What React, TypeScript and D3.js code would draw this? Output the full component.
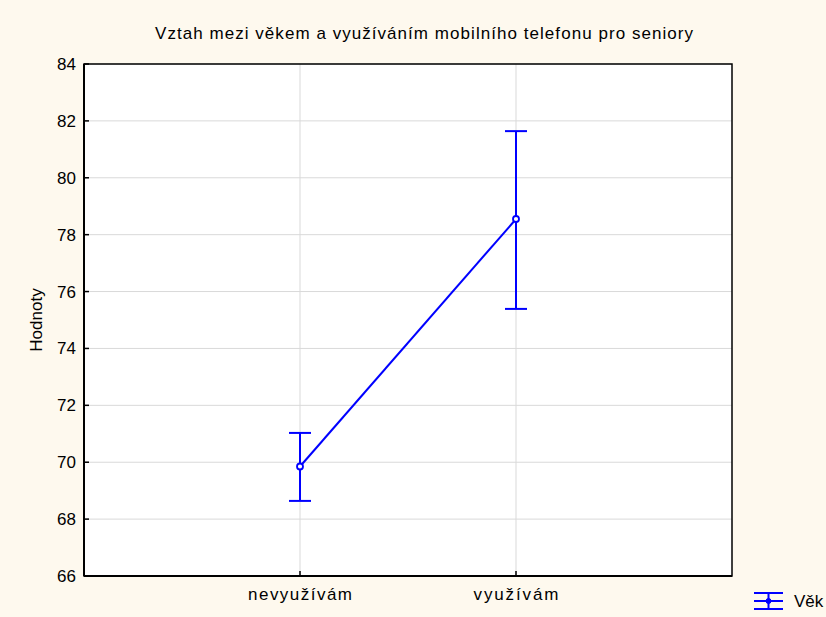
import React from "react";
import * as d3 from "d3";

const categories = ["nevyužívám", "využívám"];
const means = [69.85, 78.55];
const upper = [71.03, 81.64];
const lower = [68.64, 75.39];
const yTicks = [66, 68, 70, 72, 74, 76, 78, 80, 82, 84];
const title = "Vztah mezi věkem a využíváním mobilního telefonu pro seniory";
const yLabel = "Hodnoty";
const seriesName = "Věk";

const W = 826, H = 617;
const M = { left: 84, right: 732, top: 64, bottom: 576 };
const BLUE = "#0000ff";
const catWidths = [104, 85];

export default function App() {
  const x = d3.scalePoint<string>().domain(categories).range([M.left, M.right]).padding(1);
  const y = d3.scaleLinear().domain([66, 84]).range([M.bottom, M.top]);
  const pts = categories.map((c, i) => [x(c) as number, y(means[i])] as [number, number]);
  const line = d3.line()(pts) || "";
  const font = "Arial, 'Liberation Sans', sans-serif";
  return (
    <svg width={W} height={H} style={{ position: "absolute", left: 0, top: 0, display: "block" }} fontFamily={font}>
      <rect x={0} y={0} width={W} height={H} fill="#fef9ee" />
      <rect x={M.left} y={M.top} width={M.right - M.left} height={M.bottom - M.top} fill="#ffffff" />
      {yTicks.map((t) => (
        <line key={"g" + t} x1={M.left} x2={M.right} y1={y(t)} y2={y(t)} stroke="#d9d9d9" strokeWidth={1} />
      ))}
      {categories.map((c) => (
        <line key={"gx" + c} x1={x(c)} x2={x(c)} y1={M.top} y2={M.bottom} stroke="#d9d9d9" strokeWidth={1} />
      ))}
      <rect x={M.left} y={M.top} width={M.right - M.left} height={M.bottom - M.top} fill="none" stroke="#000" strokeWidth={1.5} />
      <line x1={M.left} x2={M.left} y1={M.top} y2={M.bottom} stroke="#000" strokeWidth={2} />
      <line x1={M.left} x2={M.right} y1={M.bottom} y2={M.bottom} stroke="#000" strokeWidth={2} />
      {yTicks.map((t) => (
        <g key={"t" + t}>
          <line x1={M.left} x2={M.left + 5} y1={y(t)} y2={y(t)} stroke="#000" strokeWidth={1.5} />
          <text x={M.left - 8} y={y(t)} dy="0.35em" textAnchor="end" fontSize={17} fill="#000">{t}</text>
        </g>
      ))}
      {categories.map((c, i) => (
        <g key={"xt" + c}>
          <line x1={x(c)} x2={x(c)} y1={M.bottom} y2={M.bottom - 5} stroke="#000" strokeWidth={1.5} />
          <text x={x(c)} y={M.bottom + 24} textAnchor="middle" fontSize={17} fill="#000" textLength={catWidths[i]} lengthAdjust="spacing">{c}</text>
        </g>
      ))}
      <text x={424} y={39} textAnchor="middle" fontSize={17} fill="#000" textLength={538} lengthAdjust="spacing">{title}</text>
      <text transform={`translate(42,${(M.top + M.bottom) / 2}) rotate(-90)`} textAnchor="middle" fontSize={17} fill="#000">{yLabel}</text>
      <path d={line} fill="none" stroke={BLUE} strokeWidth={2} />
      {categories.map((c, i) => {
        const cx = x(c) as number;
        return (
          <g key={"e" + c}>
            <line x1={cx} x2={cx} y1={y(upper[i])} y2={y(lower[i])} stroke={BLUE} strokeWidth={2} />
            <line x1={cx - 11} x2={cx + 11} y1={y(upper[i])} y2={y(upper[i])} stroke={BLUE} strokeWidth={2} />
            <line x1={cx - 11} x2={cx + 11} y1={y(lower[i])} y2={y(lower[i])} stroke={BLUE} strokeWidth={2} />
            <circle cx={cx} cy={y(means[i])} r={3} fill="#fff" stroke={BLUE} strokeWidth={1.8} />
          </g>
        );
      })}
      <g>
        <line x1={754} x2={783} y1={593} y2={593} stroke={BLUE} strokeWidth={2} />
        <line x1={754} x2={783} y1={601} y2={601} stroke={BLUE} strokeWidth={2} />
        <line x1={754} x2={783} y1={609} y2={609} stroke={BLUE} strokeWidth={2} />
        <line x1={768.5} x2={768.5} y1={593} y2={609} stroke={BLUE} strokeWidth={2} />
        <circle cx={768.5} cy={601} r={2.5} fill={BLUE} stroke={BLUE} strokeWidth={1} />
        <text x={794} y={607} fontSize={17} fill="#000">{seriesName}</text>
      </g>
    </svg>
  );
}
